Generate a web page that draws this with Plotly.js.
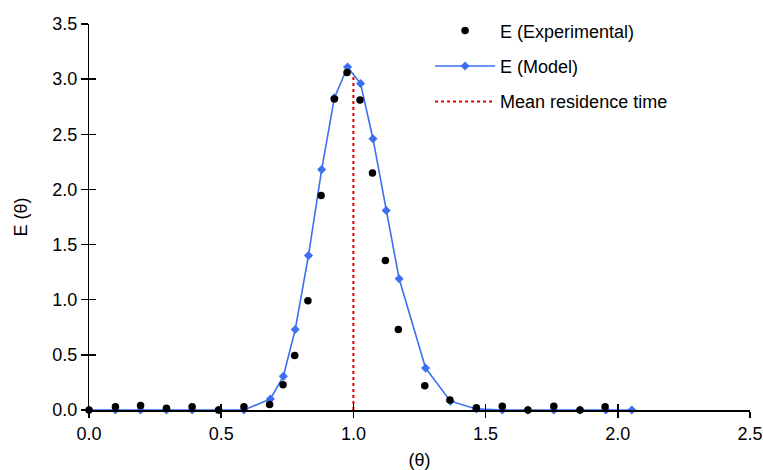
<!DOCTYPE html>
<html>
<head>
<meta charset="utf-8">
<script src="https://cdn.plot.ly/plotly-3.0.1.min.js"></script>
<style>html,body{margin:0;padding:0;background:#fff;}#chart{width:763px;height:470px;}</style>
</head>
<body>
<div id="chart"></div>
<script>
var expTheta = [0, 0.1, 0.195, 0.293, 0.39, 0.49, 0.586, 0.683, 0.734, 0.778, 0.828, 0.878, 0.928, 0.976, 1.025, 1.072, 1.121, 1.17, 1.27, 1.365, 1.465, 1.563, 1.66, 1.758, 1.857, 1.952];
var expE = [0, 0.03, 0.04, 0.015, 0.03, 0, 0.03, 0.05, 0.23, 0.495, 0.99, 1.945, 2.82, 3.06, 2.81, 2.15, 1.355, 0.73, 0.22, 0.09, 0.02, 0.035, 0, 0.035, 0, 0.03];
var modelTheta = [0, 0.1, 0.195, 0.293, 0.39, 0.49, 0.586, 0.686, 0.735, 0.78, 0.83, 0.88, 0.928, 0.978, 1.027, 1.074, 1.124, 1.173, 1.273, 1.367, 1.465, 1.563, 1.66, 1.758, 1.857, 1.955, 2.053];
var modelE = [0, 0, 0, 0, 0, 0, 0, 0.10, 0.305, 0.73, 1.40, 2.18, 2.83, 3.11, 2.96, 2.46, 1.81, 1.19, 0.38, 0.08, 0.01, 0, 0, 0, 0, 0, 0];
var meanTheta = [1.0, 1.0];
var meanE = [0, 3.05];
var xTicks = [0, 0.5, 1.0, 1.5, 2.0, 2.5];
var xTickLabels = ['0.0', '0.5', '1.0', '1.5', '2.0', '2.5'];
var yTicks = [0, 0.5, 1.0, 1.5, 2.0, 2.5, 3.0, 3.5];
var yTickLabels = ['0.0', '0.5', '1.0', '1.5', '2.0', '2.5', '3.0', '3.5'];

var FONT = 'Liberation Sans, Arial, sans-serif';

var traces = [
  {x: modelTheta, y: modelE, type: 'scatter', mode: 'lines+markers', name: 'E (Model)',
   line: {color: '#3d6ff0', width: 1.6}, marker: {symbol: 'diamond', size: 7, color: '#3d6ff0'},
   cliponaxis: false, legendrank: 2, legendgroup: 'b'},
  {x: meanTheta, y: meanE, type: 'scatter', mode: 'lines', name: 'Mean residence time',
   line: {color: '#e00000', width: 2, dash: 'dot'}, legendrank: 3, legendgroup: 'c'},
  {x: expTheta, y: expE, type: 'scatter', mode: 'markers', name: 'E (Experimental)',
   marker: {symbol: 'circle', size: 7.5, color: '#000'}, cliponaxis: false, legendrank: 1, legendgroup: 'a'},
  {x: [null], y: [null], xaxis: 'x2', yaxis: 'y2', showlegend: false, hoverinfo: 'skip', type: 'scatter'}
];

var layout = {
  width: 763, height: 470,
  margin: {l: 89, r: 13, t: 21, b: 60},
  paper_bgcolor: '#fff', plot_bgcolor: '#fff',
  font: {family: FONT, size: 18, color: '#000'},
  showlegend: true,
  legend: {x: 0.516, y: 1.03, xanchor: 'left', yanchor: 'top', bgcolor: 'rgba(0,0,0,0)',
           font: {family: FONT, size: 18, color: '#000'}, tracegroupgap: 9, traceorder: 'grouped',
           itemwidth: 60},
  xaxis: {range: [0, 2.5], showgrid: false, zeroline: false, showline: true, linecolor: '#000', linewidth: 1.5,
          tickmode: 'array', tickvals: xTicks, ticktext: xTickLabels, ticks: 'outside', ticklen: 6.5,
          tickwidth: 1.5, tickcolor: '#000', tickfont: {size: 18},
          title: {text: '(θ)', font: {size: 18}, standoff: 11}, automargin: false, fixedrange: true},
  yaxis: {range: [0, 3.5], showgrid: false, zeroline: false, showline: true, linecolor: '#000', linewidth: 1.5,
          tickmode: 'array', tickvals: yTicks, ticktext: yTickLabels, ticks: 'outside', ticklen: 6.5,
          tickwidth: 1.5, tickcolor: '#000', tickfont: {size: 18},
          title: {text: 'E (θ)', font: {size: 18}, standoff: 20}, automargin: false, fixedrange: true},
  xaxis2: {range: [0, 2.5], overlaying: 'x', showgrid: false, zeroline: false, showline: false,
           tickmode: 'array', tickvals: xTicks, ticks: 'inside', ticklen: 6.5, tickwidth: 1.5, tickcolor: '#000',
           showticklabels: false, anchor: 'y2', side: 'bottom'},
  yaxis2: {range: [0, 3.5], overlaying: 'y', showgrid: false, zeroline: false, showline: false,
           tickmode: 'array', tickvals: yTicks, ticks: 'inside', ticklen: 6.5, tickwidth: 1.5, tickcolor: '#000',
           showticklabels: false, anchor: 'x2', side: 'left'}
};

Plotly.newPlot('chart', traces, layout, {displayModeBar: false, staticPlot: true});
</script>
</body>
</html>
